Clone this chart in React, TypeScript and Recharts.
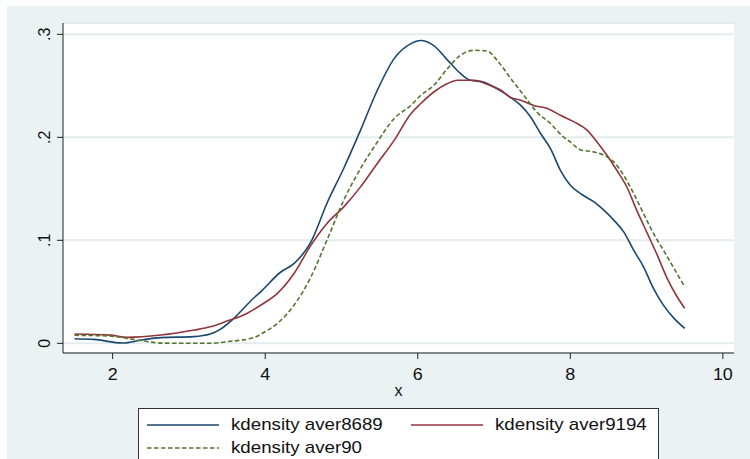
import React from "react";
import { LineChart, Line, XAxis, YAxis, CartesianGrid, Legend } from "recharts";

// values (kernel density estimates)
const blueX = [1.5, 1.75, 2.13, 2.4, 2.63, 3.06, 3.28, 3.42, 3.55, 3.85, 3.94, 4.2, 4.38, 4.6, 4.81, 5.03, 5.25, 5.47, 5.69, 5.91, 6.04, 6.21, 6.39, 6.56, 6.69, 6.86, 7.04, 7.22, 7.35, 7.48, 7.61, 7.74, 7.87, 8.0, 8.13, 8.31, 8.44, 8.57, 8.7, 8.83, 8.96, 9.09, 9.22, 9.36, 9.5];
const blueY = [0.0045, 0.0038, 0.0003, 0.0035, 0.0055, 0.0065, 0.009, 0.014, 0.0216, 0.044, 0.05, 0.069, 0.0776, 0.0985, 0.136, 0.17, 0.207, 0.2457, 0.2764, 0.291, 0.294, 0.289, 0.275, 0.262, 0.2554, 0.2538, 0.247, 0.2386, 0.231, 0.2198, 0.2037, 0.189, 0.168, 0.1535, 0.1455, 0.1373, 0.1293, 0.1196, 0.1082, 0.0905, 0.0743, 0.0533, 0.0371, 0.0242, 0.0145];

const redX = [1.5, 1.97, 2.19, 2.63, 3.07, 3.28, 3.5, 3.76, 3.94, 4.16, 4.38, 4.6, 4.81, 5.03, 5.25, 5.47, 5.69, 5.91, 6.04, 6.21, 6.39, 6.52, 6.74, 6.91, 7.09, 7.22, 7.35, 7.52, 7.7, 7.87, 8.05, 8.22, 8.35, 8.48, 8.61, 8.74, 8.87, 9.01, 9.14, 9.27, 9.4, 9.5];
const redY = [0.009, 0.008, 0.0058, 0.008, 0.0129, 0.016, 0.0216, 0.029, 0.037, 0.0485, 0.068, 0.0953, 0.1164, 0.1325, 0.1519, 0.1746, 0.197, 0.223, 0.2328, 0.244, 0.2522, 0.2554, 0.2554, 0.2515, 0.2457, 0.2386, 0.236, 0.231, 0.228, 0.2214, 0.215, 0.207, 0.1955, 0.1826, 0.168, 0.152, 0.1293, 0.1067, 0.0856, 0.063, 0.0452, 0.034];

const greenX = [1.5, 1.97, 2.19, 2.41, 2.63, 3.07, 3.28, 3.5, 3.85, 3.98, 4.16, 4.38, 4.6, 4.81, 5.03, 5.25, 5.47, 5.69, 5.91, 6.04, 6.21, 6.39, 6.56, 6.74, 6.91, 7.04, 7.22, 7.39, 7.56, 7.74, 7.91, 8.0, 8.13, 8.31, 8.44, 8.57, 8.7, 8.83, 8.96, 9.09, 9.22, 9.36, 9.5];
const greenY = [0.0078, 0.007, 0.0048, 0.0022, 0.0002, 0.0, 0.0, 0.0016, 0.0055, 0.0105, 0.0194, 0.0372, 0.0646, 0.1002, 0.139, 0.1697, 0.1955, 0.2182, 0.231, 0.2408, 0.2505, 0.2667, 0.2796, 0.2845, 0.2838, 0.2748, 0.257, 0.2408, 0.2246, 0.2134, 0.2004, 0.1955, 0.188, 0.1858, 0.1826, 0.176, 0.163, 0.1455, 0.126, 0.1067, 0.0905, 0.0727, 0.0549];

const xTicks = [2, 4, 6, 8, 10];
const yTicks = [0, 0.1, 0.2, 0.3];
const seriesNames = ["kdensity aver8689", "kdensity aver9194", "kdensity aver90"];

const toPoints = (xs: number[], ys: number[]) => xs.map((x, i) => ({ x, y: ys[i] }));

const series = [
  { name: seriesNames[0], color: "#1a476f", dash: undefined, data: toPoints(blueX, blueY) },
  { name: seriesNames[1], color: "#90353b", dash: undefined, data: toPoints(redX, redY) },
  { name: seriesNames[2], color: "#55752f", dash: "4.5 2.5", data: toPoints(greenX, greenY) },
];

const FONT = "'Liberation Sans', Arial, sans-serif";

const fmtY = (v: number) => (v === 0 ? "0" : String(v).replace(/^0/, ""));

const XTick = ({ x, y, payload }: any) => (
  <g transform={`translate(${x},${y + 19}) scale(1.12,1)`}>
    <text textAnchor="middle" fontSize={16} fontFamily={FONT} fill="#111">
      {payload.value}
    </text>
  </g>
);

const YTick = ({ x, y, payload }: any) => (
  <g transform={`translate(${x - 11},${y}) rotate(-90)`}>
    <text textAnchor="middle" dy="0.36em" fontSize={16} fontFamily={FONT} fill="#111">
      {fmtY(payload.value)}
    </text>
  </g>
);

const XTitle = ({ viewBox }: any) => (
  <text
    x={viewBox.x + viewBox.width / 2}
    y={viewBox.y + 42.5}
    textAnchor="middle"
    fontSize={16}
    fontFamily={FONT}
    fill="#111"
  >
    x
  </text>
);

const renderLegend = () => (
  <div
    style={{
      position: "relative",
      width: 521,
      height: 70,
      background: "#fff",
      border: "1px solid #333",
      boxSizing: "border-box",
    }}
  >
    {series.map((s, i) => (
      <div
        key={s.name}
        style={{
          position: "absolute",
          left: i === 1 ? 272 : 8,
          top: i === 2 ? 28 : 5,
          height: 22,
          display: "flex",
          alignItems: "center",
        }}
      >
        <svg width={72} height={22}>
          <line x1={0} x2={72} y1={11} y2={11} stroke={s.color} strokeWidth={1.6} strokeDasharray={s.dash} />
        </svg>
        <span
          style={{
            marginLeft: 12,
            fontFamily: FONT,
            fontSize: 17,
            color: "#111",
            whiteSpace: "nowrap",
            display: "inline-block",
            transform: "scaleX(1.1)",
            transformOrigin: "left center",
          }}
        >
          {s.name}
        </span>
      </div>
    ))}
  </div>
);

export default function App() {
  return (
    <div style={{ position: "absolute", left: 0, top: 0, width: 750, height: 459, overflow: "hidden", background: "#fff" }}>
      <div style={{ position: "absolute", left: 7, top: 6, right: 0, bottom: 0, background: "#eaf2f3" }} />
      <div style={{ position: "absolute", left: 0, top: 0 }}>
        <LineChart width={750} height={459} margin={{ top: 23, right: 16, bottom: 0, left: 0 }}>
          <CartesianGrid vertical={false} fill="#fff" stroke="#e3ecef" strokeWidth={2} />
          <XAxis
            dataKey="x"
            type="number"
            domain={[1.349, 10.146]}
            ticks={xTicks}
            allowDataOverflow
            height={106}
            tickSize={6}
            stroke="#222"
            tick={<XTick />}
            label={<XTitle />}
          />
          <YAxis
            type="number"
            domain={[-0.0094, 0.311]}
            ticks={yTicks}
            allowDataOverflow
            width={63}
            tickSize={6}
            stroke="#222"
            tick={<YTick />}
          />
          {series.map((s) => (
            <Line
              key={s.name}
              data={s.data}
              dataKey="y"
              name={s.name}
              type="monotone"
              stroke={s.color}
              strokeWidth={1.6}
              strokeDasharray={s.dash}
              dot={false}
              activeDot={false}
              isAnimationActive={false}
            />
          ))}
          <Legend
            layout="vertical"
            verticalAlign="middle"
            align="center"
            content={renderLegend}
            wrapperStyle={{ left: 138, top: 408, width: 521, height: 70 }}
          />
        </LineChart>
      </div>
    </div>
  );
}
